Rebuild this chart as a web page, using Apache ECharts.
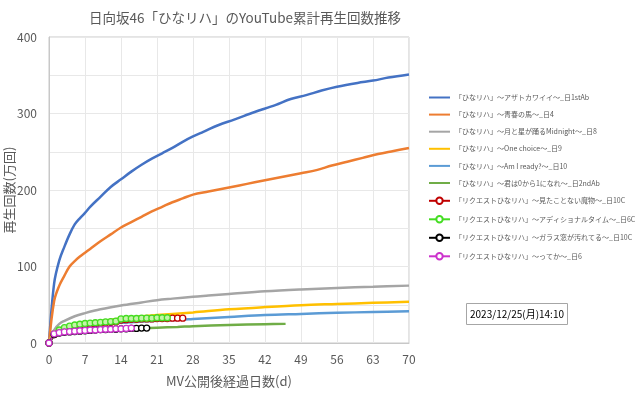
<!DOCTYPE html>
<html><head><meta charset="utf-8">
<script src="https://cdn.jsdelivr.net/npm/echarts@6.0.0/dist/echarts.min.js"></script>
<style>html,body{margin:0;padding:0;background:#fff}#c{width:640px;height:399px}</style>
</head><body><div id="c"></div><script>
const titleText = '日向坂46「ひなリハ」のYouTube累計再生回数推移';
const xAxisName = 'MV公開後経過日数(d)';
const yAxisName = '再生回数(万回)';
const stampText = '2023/12/25(月)14:10';
const xMin = 0, xMax = 70, xStep = 7;
const yMin = 0, yMax = 400, yStep = 100;

const names = [
  '「ひなリハ」～アザトカワイイ～_日1stAb',
  '「ひなリハ」～青春の馬～_日4',
  '「ひなリハ」～月と星が踊るMidnight～_日8',
  '「ひなリハ」～One choice～_日9',
  '「ひなリハ」～Am I ready?～_日10',
  '「ひなリハ」～君は0から1になれ～_日2ndAb',
  '「リクエストひなリハ」～見たことない魔物～_日10C',
  '「リクエストひなリハ」～アディショナルタイム～_日6C',
  '「リクエストひなリハ」～ガラス窓が汚れてる～_日10C',
  '「リクエストひなリハ」～ってか～_日6'
];

const daysAzato = [0,1,2,3,4,5,6,7,8,10,12,14,16,18,20,22,24,26,28,30,33,36,40,44,47,50,53,56,60,63,66,70];
const valsAzato = [0,78,108,126,142,155,163,170,178,191,204,214,224,233,241,248,255,263,270,276,285,292,302,311,319,324,330,335,340,343,347,351];

const daysSeishun = [0,1,2,3,4,5,6,7,8,10,12,14,16,18,20,22,24,26,28,31,34,37,40,43,46,49,52,55,58,61,64,67,70];
const valsSeishun = [0,55,75,88,100,107,113,118,123,133,142,151,158,165,172,178,184,189,194,198,202,206,210,214,218,222,226,232,237,242,247,251,255];

const daysMidnight = [0,1,2,3,5,7,10,14,18,21,24,28,31,35,42,49,56,63,70];
const valsMidnight = [0,17,25,29,35,39,44,49,53,56,58,60.5,62,64,67.5,70,72,73.5,75];

const daysOneChoice = [0,1,2,3,5,7,10,14,18,21,24,28,35,42,49,56,63,70];
const valsOneChoice = [0,14,18,20,23,25.5,28.5,32,35,36.5,38,40,44,47,49.5,51,52.5,54];

const daysAmIReady = [0,1,2,3,5,7,10,14,18,21,26,28,35,42,49,56,63,70];
const valsAmIReady = [0,11,14,16,19,21,24,26.5,28,29,30.5,31.5,34,36.5,38,39.5,40.5,41.5];

const daysKimiwa = [0,1,2,3,5,7,10,14,18,21,25,28,35,42,46];
const valsKimiwa = [0,9,11,12.5,14,15.5,17,18,19,20,21,22,23.5,24.5,25];

const valsMamono = [0,11,15,18,20,22,23,24,25,25.5,26,26.5,27,27.5,30,30.5,31,31,31.5,31.5,31.5,32,32,32,32.5,32.5,32.5];
const valsAdditional = [0,12,17,20,22,23.5,24.5,25.5,26,26.5,27,27.5,28,28.5,31.5,32,32,32,32.5,32.5,32.5,33,33,33];
const valsGarasu = [0,11,13,14,14.5,15,15.5,16,16.5,17,17.5,17.5,18,18,18.5,18.5,19,19,19.5,19.5];
const valsKteka = [0,12,13.5,14.5,15,15.5,16,16.5,17,17,17.5,18,18,18.5,18.5,19,19.5];

const lineColors = ['#4472C4','#ED7D31','#A5A5A5','#FFC000','#5B9BD5','#70AD47'];
const markColors = ['#C00000','#44DD22','#000000','#CC33CC'];
const markFills = ['#ffffff','#c4f4a8','#ffffff','#ffffff'];

const pair = (d, v) => d.map((x, i) => [x, v[i]]);
const daily = v => v.map((y, i) => [i, y]);

const lineData = [
  pair(daysAzato, valsAzato), pair(daysSeishun, valsSeishun), pair(daysMidnight, valsMidnight),
  pair(daysOneChoice, valsOneChoice), pair(daysAmIReady, valsAmIReady), pair(daysKimiwa, valsKimiwa)
];
const markData = [daily(valsMamono), daily(valsAdditional), daily(valsGarasu), daily(valsKteka)];

const series = [];
lineData.forEach((d, i) => series.push({
  name: names[i], type: 'line', data: d, smooth: 0.35, symbol: 'none', showSymbol: false,
  lineStyle: { color: lineColors[i], width: 2.5 }, itemStyle: { color: lineColors[i] }, animation: false
}));
markData.forEach((d, i) => series.push({
  name: names[6 + i], type: 'line', data: d, symbol: 'circle', symbolSize: 6, showSymbol: true,
  lineStyle: { color: markColors[i], width: 2 },
  itemStyle: { color: markFills[i], borderColor: markColors[i], borderWidth: 1.3 }, animation: false
}));

const legendData = names.map((n, i) => i < 6
  ? { name: n, itemStyle: { opacity: 0 } }
  : { name: n, itemStyle: { color: '#ffffff' } });

const FONT = '"Noto Sans CJK JP", "Noto Sans", sans-serif';
const chart = echarts.init(document.getElementById('c'), null, { renderer: 'canvas' });
chart.setOption({
  backgroundColor: '#ffffff',
  textStyle: { fontFamily: FONT },
  title: { text: titleText, left: 240, top: 6, textAlign: 'center',
    textStyle: { fontSize: 13.5, fontWeight: 'normal', color: '#595959', fontFamily: FONT } },
  grid: { left: 49, right: 231, top: 37, bottom: 56, show: true, borderColor: '#c8c8c8', borderWidth: 1,
    containLabel: false, outerBoundsMode: 'none' },
  legend: {
    orient: 'vertical', left: 428, top: 94, padding: 0, itemWidth: 21, itemHeight: 8, itemGap: 10.1,
    textStyle: { fontSize: 7, color: '#595959', fontFamily: FONT }, data: legendData
  },
  xAxis: {
    type: 'value', min: xMin, max: xMax, interval: xStep,
    name: xAxisName, nameLocation: 'middle', nameGap: 32, nameMoveOverlap: false,
    nameTextStyle: { fontSize: 13, color: '#595959', fontFamily: FONT },
    axisLine: { show: true, lineStyle: { color: '#c8c8c8' } }, axisTick: { show: false },
    axisLabel: { fontSize: 12, color: '#595959', margin: 10, fontFamily: FONT },
    splitLine: { show: true, lineStyle: { color: '#e8e8e8', width: 1 } }
  },
  yAxis: {
    type: 'value', min: yMin, max: yMax, interval: yStep,
    name: yAxisName, nameLocation: 'middle', nameGap: 33, nameRotate: 90, nameMoveOverlap: false,
    nameTextStyle: { fontSize: 13, color: '#595959', fontFamily: FONT },
    axisLine: { show: true, lineStyle: { color: '#c8c8c8' } }, axisTick: { show: false },
    axisLabel: { fontSize: 12, color: '#595959', margin: 12, fontFamily: FONT },
    splitLine: { show: true, lineStyle: { color: '#e8e8e8', width: 1 } },
    minorTick: { show: false, splitNumber: 2 },
    minorSplitLine: { show: true, lineStyle: { color: '#e8e8e8', width: 1 } }
  },
  graphic: [{
    type: 'group', left: 466, top: 303,
    children: [
      { type: 'rect', shape: { x: 0, y: 0, width: 101, height: 21 },
        style: { fill: '#ffffff', stroke: '#a6a6a6', lineWidth: 1 } },
      { type: 'text', x: 50.5, y: 10.5,
        style: { text: stampText, fontSize: 10, fill: '#000000', fontFamily: FONT,
          textAlign: 'center', textVerticalAlign: 'middle' } }
    ]
  }],
  series: series
});
</script></body></html>
